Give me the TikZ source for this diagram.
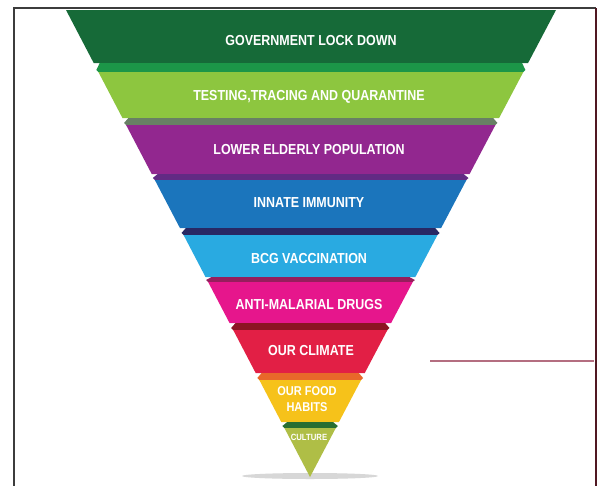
\documentclass[tikz,border=0pt]{standalone}
\usepackage{fontspec}
\newfontfamily\labfont[FakeStretch=0.86]{Liberation Sans}
\definecolor{g1}{RGB}{22,106,56}
\definecolor{s1}{RGB}{28,150,72}
\definecolor{g2}{RGB}{141,198,63}
\definecolor{s2}{RGB}{104,128,100}
\definecolor{g3}{RGB}{146,39,143}
\definecolor{s3}{RGB}{98,42,132}
\definecolor{g4}{RGB}{27,117,188}
\definecolor{s4}{RGB}{40,40,100}
\definecolor{g5}{RGB}{41,170,225}
\definecolor{s5}{RGB}{150,30,92}
\definecolor{g6}{RGB}{230,22,140}
\definecolor{s6}{RGB}{140,20,34}
\definecolor{g7}{RGB}{226,31,69}
\definecolor{s7}{RGB}{232,104,42}
\definecolor{g8}{RGB}{246,194,26}
\definecolor{s8}{RGB}{40,110,50}
\definecolor{g9}{RGB}{175,190,70}
\definecolor{shadowgrey}{RGB}{215,215,215}
\definecolor{frameL}{RGB}{60,60,60}
\definecolor{frameR}{RGB}{80,24,34}
\definecolor{sideline}{RGB}{180,110,128}
\begin{document}
\begin{tikzpicture}[x=1pt,y=-1pt,
  lab/.style={text=white,font=\labfont\bfseries\fontsize{14.5}{16}\selectfont,align=center,inner sep=0pt},
  smalllab/.style={lab,font=\labfont\bfseries\fontsize{12.8}{16}\selectfont},
  tinylab/.style={lab,font=\labfont\bfseries\fontsize{9}{10}\selectfont}]
\useasboundingbox (0,0) rectangle (600,485);
\fill[white] (0,0) rectangle (600,485);
% frame
\draw[frameL,line width=2pt] (14,486) -- (14,8) -- (596,8);
\draw[frameR,line width=2pt] (596,8) -- (596,486);
\draw[sideline,line width=1.2pt] (430,361) -- (594,361);
% shadow
\fill[shadowgrey] (310,476) ellipse [x radius=68, y radius=3];
% layers
\foreach \t/\b/\n/\c/\s in {10/63/72/g1/s1, 72/118/125/g2/s2, 125/174/180/g3/s3, 180/228/235/g4/s4, 235/277/282/g5/s5, 282/323/330/g6/s6, 330/373/380/g7/s7, 380/422/428/g8/s8}{
  \pgfmathsetmacro\m{\n-2}
  \fill[\c] ({66+0.5225*(\t-10)},\t) -- ({556-0.5268*(\t-10)},\t) -- ({556-0.5268*(\b-10)},\b) -- ({66+0.5225*(\b-10)},\b) -- cycle;
  \fill[\s] ({66+0.5225*(\b-10)+6},\b) -- ({556-0.5268*(\b-10)-6},\b) -- ({556-0.5268*(\m-10)+1},\m) -- ({556-0.5268*(\n-10)},\n) -- ({66+0.5225*(\n-10)},\n) -- ({66+0.5225*(\m-10)-1},\m) -- cycle;
}
\fill[g9] ({66+0.5225*(428-10)},428) -- ({556-0.5268*(428-10)},428) -- (310,477) -- cycle;
% labels
\node[lab] (l1) at (311,41) {GOVERNMENT LOCK DOWN};
\node[lab] (l2) at (309,97) {TESTING,TRACING AND QUARANTINE};
\node[lab] (l3) at (309,150) {LOWER ELDERLY POPULATION};
\node[lab] (l4) at (309,203) {INNATE IMMUNITY};
\node[lab] (l5) at (309,259) {BCG VACCINATION};
\node[lab] (l6) at (309,305) {ANTI-MALARIAL DRUGS};
\node[lab] (l7) at (311,351) {OUR CLIMATE};
\node[smalllab] (l8) at (307,399) {OUR FOOD\\HABITS};
\node[tinylab] (l9) at (309,437) {CULTURE};
\end{tikzpicture}
\end{document}
